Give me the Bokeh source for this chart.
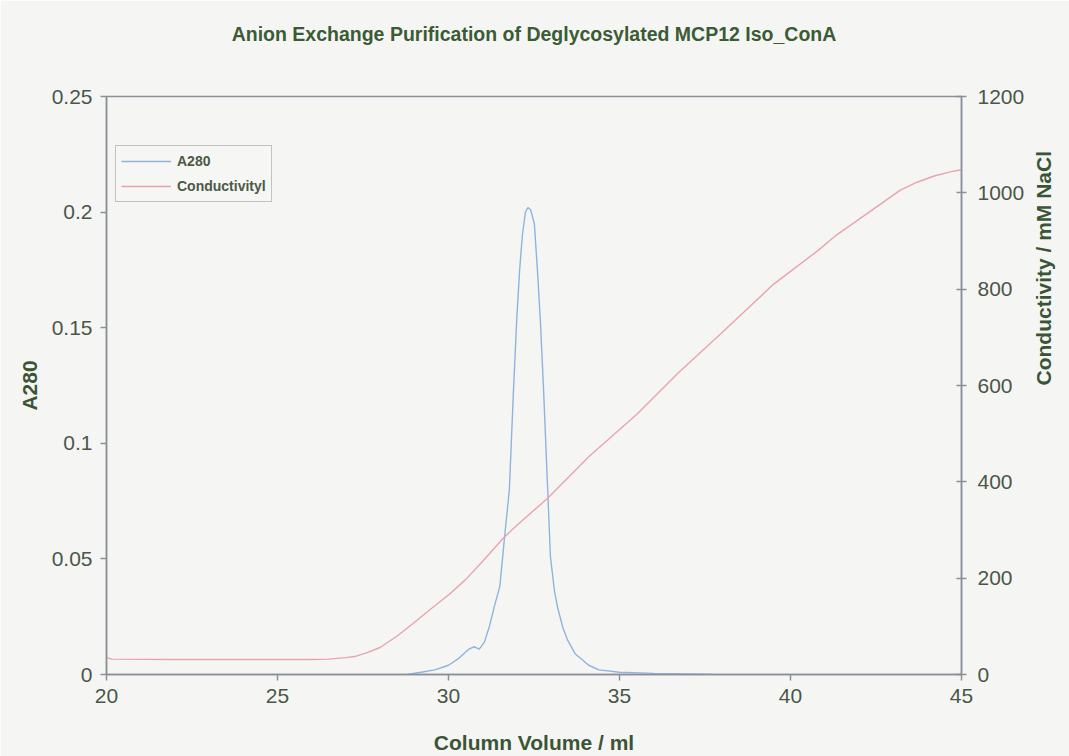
import math
from bokeh.plotting import figure
from bokeh.models import Range1d, LinearAxis, FixedTicker, CustomJSTickFormatter, Legend, LegendItem, Title
from bokeh.embed import file_html
from bokeh.resources import INLINE

# ---- data ----
volume_a280 = [28.8, 29.2, 29.6, 30.0, 30.3, 30.6, 30.75, 30.9, 31.05, 31.2, 31.35, 31.5,
               31.63, 31.78, 31.9, 32.0, 32.08, 32.16, 32.25, 32.32, 32.4, 32.51, 32.6,
               32.69, 32.78, 32.9, 32.98, 33.1, 33.19, 33.35, 33.48, 33.7, 33.86, 34.1,
               34.4, 35.0, 36.0, 37.7]
a280 = [0.0, 0.001, 0.002, 0.004, 0.007, 0.011, 0.012, 0.011, 0.014, 0.021, 0.030, 0.038,
        0.058, 0.080, 0.123, 0.155, 0.175, 0.190, 0.200, 0.202, 0.201, 0.195, 0.175,
        0.152, 0.123, 0.080, 0.051, 0.036, 0.029, 0.020, 0.015, 0.009, 0.007, 0.004,
        0.002, 0.001, 0.0005, 0.0]

volume_cond = [20.0, 20.15, 22.0, 24.0, 26.0, 26.5, 27.0, 27.3, 27.6, 28.0, 28.5, 29.0,
               29.5, 30.0, 30.5, 31.0, 31.6, 32.0, 32.9, 34.1, 35.5, 36.7, 38.0, 39.5,
               40.8, 41.3, 42.3, 43.2, 43.7, 44.2, 44.7, 45.0]
conductivity = [35, 32, 31, 31, 31, 32, 35, 38, 45, 56, 80, 108,
                137, 165, 197, 235, 283, 310, 366, 452, 540, 625, 710, 810,
                880, 910, 960, 1005, 1022, 1035, 1044, 1048]

x_ticks = [20, 25, 30, 35, 40, 45]
a280_ticks = [0, 0.05, 0.1, 0.15, 0.2, 0.25]
cond_ticks = [0, 200, 400, 600, 800, 1000, 1200]

title_text = "Anion Exchange Purification of Deglycosylated MCP12 Iso_ConA"
x_label = "Column Volume / ml"
y_label = "A280"
y2_label = "Conductivity / mM NaCl"

# ---- styles ----
BG = "#f5f6f4"
AXIS = "#8a9096"
TICKC = "#4a5648"
LABELC = "#3a5535"
FONT = "Liberation Sans"

p = figure(width=1069, height=756, output_backend="svg", toolbar_location=None, title=None,
           x_range=Range1d(20, 45), y_range=Range1d(0, 0.25),
           min_border_left=106, min_border_right=103, min_border_top=96, min_border_bottom=82)
p.extra_y_ranges = {"cond": Range1d(0, 1200)}

p.background_fill_color = BG
p.border_fill_color = BG
p.outline_line_color = AXIS
p.outline_line_width = 1.5
p.grid.visible = False

# spacer (closest to the frame) then the real title (outermost)
p.add_layout(Title(text=" ", text_font=FONT, text_font_size="21px", standoff=27), "above")
p.add_layout(Title(text=title_text, align="center", standoff=0, text_font=FONT,
                   text_font_size="19.5px", text_font_style="bold", text_color="#3b5b34"), "above")

r1 = p.line(volume_a280, a280, line_color="#8fb4dc", line_width=1.4)
r2 = p.line(volume_cond, conductivity, line_color="#e9a3ad", line_width=1.4, y_range_name="cond")

def style_axis(ax, tick_in, tick_out, lab_standoff, axl_standoff):
    ax.axis_line_color = AXIS
    ax.axis_line_width = 1.5
    ax.major_tick_line_color = AXIS
    ax.major_tick_line_width = 1.5
    ax.major_tick_in = tick_in
    ax.major_tick_out = tick_out
    ax.minor_tick_line_color = None
    ax.major_label_text_font = FONT
    ax.major_label_text_font_size = "21px"
    ax.major_label_text_color = TICKC
    ax.major_label_standoff = lab_standoff
    ax.axis_label_text_font = FONT
    ax.axis_label_text_font_size = "21px"
    ax.axis_label_text_font_style = "bold"
    ax.axis_label_text_color = LABELC
    ax.axis_label_standoff = axl_standoff

xa = p.xaxis[0]
xa.ticker = FixedTicker(ticks=x_ticks)
xa.axis_label = x_label
style_axis(xa, 0, 6, 8, 25)

ya = p.yaxis[0]
ya.ticker = FixedTicker(ticks=a280_ticks)
ya.formatter = CustomJSTickFormatter(code="return parseFloat(tick.toFixed(2)).toString();")
ya.axis_label = y_label
style_axis(ya, 0, 6, 8, 8)

# right axis: ticks, tick labels and its title reading bottom-to-top
ya2 = LinearAxis(y_range_name="cond", ticker=FixedTicker(ticks=cond_ticks), axis_label=y2_label)
style_axis(ya2, 5, 5, 11, 16)
ya2.axis_label_orientation = math.pi / 2
p.add_layout(ya2, "right")

legend = Legend(items=[LegendItem(label="A280", renderers=[r1]),
                       LegendItem(label="Conductivityl", renderers=[r2])],
                location=(9, 472))
legend.glyph_width = 50
legend.glyph_height = 20
legend.label_height = 20
legend.spacing = 5
legend.padding = 5
legend.margin = 0
legend.label_standoff = 6
legend.label_text_font = FONT
legend.label_text_font_size = "14px"
legend.label_text_font_style = "bold"
legend.label_text_color = "#4a5a44"
legend.border_line_color = "#8a8f8a"
legend.border_line_width = 1.2
legend.background_fill_color = BG
p.add_layout(legend, "center")

open("out.html", "w").write(file_html(p, INLINE))
